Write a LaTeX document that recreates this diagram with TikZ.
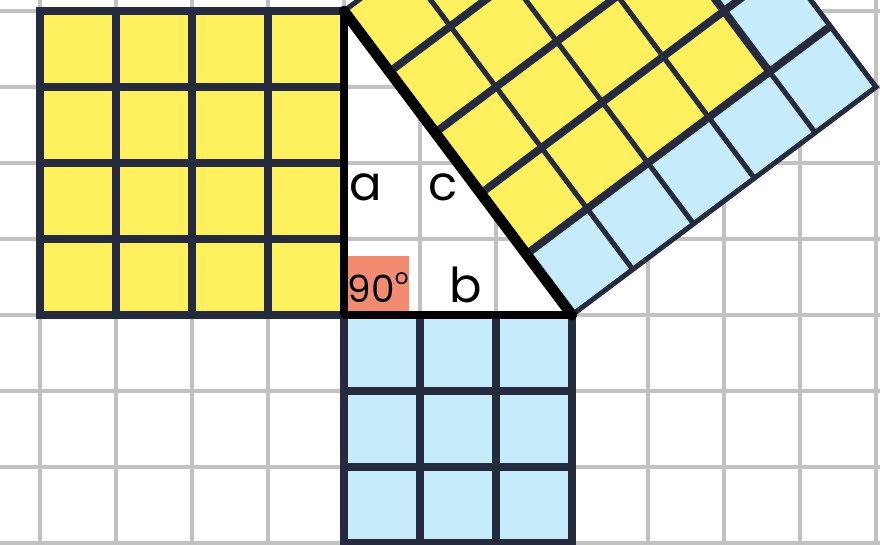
\documentclass[tikz,border=0pt]{standalone}
\usepackage{fontspec}
\setmainfont{Poppins}
\definecolor{yellowc}{RGB}{255,241,94}
\definecolor{bluec}{RGB}{198,236,252}
\definecolor{darkc}{RGB}{38,42,62}
\definecolor{grayc}{RGB}{194,194,194}
\definecolor{salmonc}{RGB}{242,140,112}
\tikzset{
  gridline/.style={draw=grayc, line width=1.3pt},
  cellline/.style={draw=darkc, line width=2.8pt},
  thinline/.style={draw=darkc, line width=1.9pt},
  thickline/.style={draw=darkc, line width=2.9pt},
  legline/.style={draw=black, line width=2.8pt, line cap=round, line join=round},
  hypline/.style={draw=black, line width=4pt, line cap=round},
  lbl/.style={font=\fontsize{18}{20}\selectfont, text=black, inner sep=0pt},
}
\begin{document}
\begin{tikzpicture}[x=1cm,y=1cm]
\useasboundingbox (-4.526,-3.026) rectangle (7.053,4.145);
\begin{scope}
\clip (-4.526,-3.026) rectangle (7.053,4.145);
\fill[white] (-4.526,-3.026) rectangle (7.053,4.145);
% background grid
\draw[gridline] (-5,-4) grid (8,5);
% named vertices
\coordinate (R) at (0,0);
\coordinate (A) at (0,4);
\coordinate (B) at (3,0);
% square on a (left)
\fill[yellowc] (-4,0) rectangle (0,4);
\draw[cellline] (-4,0) grid (0,4);
\draw[cellline] (-4,0) rectangle (0,4);
% square on b (bottom)
\fill[bluec] (0,-3) rectangle (3,0);
\draw[cellline] (0,-3) grid (3,0);
\draw[cellline] (0,-3) rectangle (3,0);
% square on c (rotated)
\begin{scope}[shift={(A)}, rotate=-53.1301]
  \fill[bluec] (0,0) rectangle (5,5);
  \fill[yellowc] (0,0) rectangle (4,4);
  \foreach \t in {1,2,3,4} \draw[thinline] (0,\t) -- (5,\t);
  \foreach \s in {1,2,3} \draw[thickline] (\s,0) -- (\s,5);
  \draw[thickline] (4,0) -- (4,4) -- (0,4);
  \draw[thickline] (4,4) -- (4,5);
  \draw[thinline] (0,0) rectangle (5,5);
\end{scope}
% right angle marker
\fill[salmonc] (0,0) rectangle (0.86,0.77);
% triangle
\draw[legline] (A) -- (R) -- (B);
\draw[hypline] (A) -- (B);
% labels
\node[lbl] (la) at (0.28,1.68) {a};
\node[lbl] (lc) at (1.30,1.68) {c};
\node[lbl] (lb) at (1.60,0.40) {b};
\node[inner sep=0pt, font=\fontsize{14}{16}\selectfont] (ang) at (0.45,0.36) {90\raisebox{0.9ex}{\fontsize{8}{8}\selectfont o}};
\end{scope}
\end{tikzpicture}
\end{document}
